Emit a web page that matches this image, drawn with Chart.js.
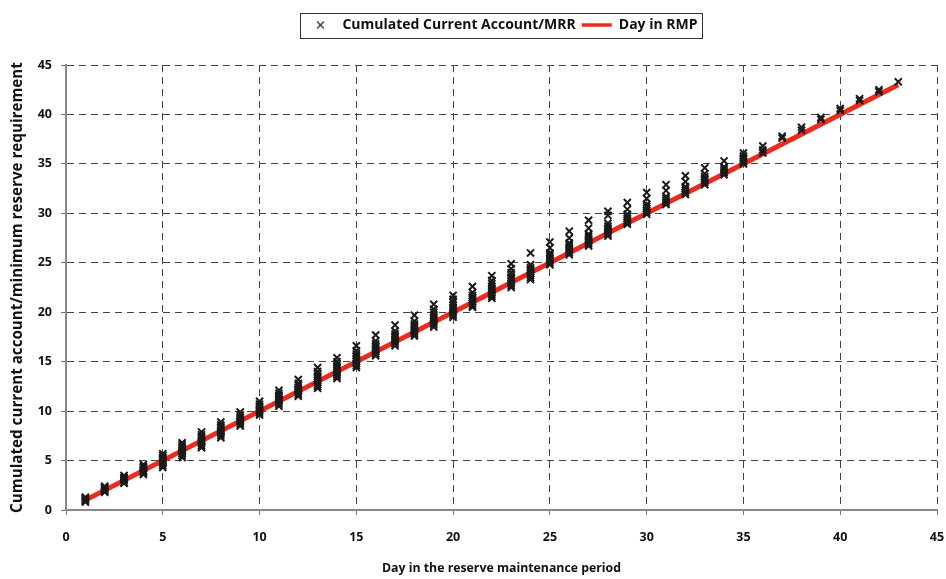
<!DOCTYPE html>
<html>
<head>
<meta charset="utf-8">
<script src="https://cdn.jsdelivr.net/npm/chart.js@4.4.1/dist/chart.umd.min.js"></script>
<style>
  html, body { margin: 0; padding: 0; background: #fff; }
  #wrap { width: 946px; height: 579px; position: relative; }
</style>
</head>
<body>
<div id="wrap"><canvas id="rmp-chart"></canvas></div>
<script>
// 준비금 적립기간 중 누적 경상계정 / 최소 지급준비금

// 각 적립일(1~43일)에 관측된 누적 경상계정/MRR 값
const ratiosByDay = [
    [0.8, 0.9, 1.0, 1.1, 1.2, 1.3],
    [1.8, 1.9, 2.0, 2.1, 2.2, 2.3, 2.4],
    [2.7, 2.8, 3.0, 3.1, 3.2, 3.3, 3.5],
    [3.6, 3.8, 3.9, 4.0, 4.2, 4.3, 4.4, 4.6],
    [4.3, 4.5, 4.7, 4.8, 5.0, 5.2, 5.3, 5.5, 5.7],
    [5.3, 5.5, 5.7, 5.9, 6.0, 6.2, 6.4, 6.6, 6.8],
    [6.3, 6.5, 6.7, 6.9, 7.0, 7.2, 7.4, 7.6, 7.9],
    [7.3, 7.5, 7.7, 7.9, 8.0, 8.2, 8.4, 8.6, 8.9],
    [8.5, 8.7, 8.9, 9.0, 9.2, 9.4, 9.6, 9.9],
    [9.6, 9.8, 10.0, 10.1, 10.3, 10.5, 10.7, 11.0],
    [10.5, 10.7, 10.9, 11.1, 11.2, 11.4, 11.6, 11.8, 12.1],
    [11.5, 11.7, 11.9, 12.1, 12.2, 12.4, 12.6, 12.8, 13.2],
    [12.3, 12.5, 12.7, 12.9, 13.1, 13.3, 13.5, 13.7, 14.0, 14.4],
    [13.3, 13.5, 13.7, 13.9, 14.1, 14.3, 14.5, 14.7, 15.0, 15.4],
    [14.4, 14.6, 14.8, 15.0, 15.2, 15.4, 15.6, 15.8, 16.1, 16.6],
    [15.6, 15.8, 16.0, 16.2, 16.4, 16.6, 16.8, 17.1, 17.7],
    [16.6, 16.8, 17.0, 17.2, 17.4, 17.6, 17.8, 18.1, 18.7],
    [17.6, 17.8, 18.0, 18.2, 18.4, 18.6, 18.8, 19.1, 19.7],
    [18.5, 18.7, 18.9, 19.1, 19.3, 19.5, 19.7, 20.0, 20.3, 20.8],
    [19.5, 19.7, 19.9, 20.1, 20.3, 20.5, 20.7, 21.0, 21.3, 21.7],
    [20.5, 20.7, 20.9, 21.1, 21.3, 21.5, 21.7, 22.0, 22.6],
    [21.4, 21.6, 21.8, 22.0, 22.2, 22.4, 22.6, 22.9, 23.2, 23.7],
    [22.5, 22.7, 22.9, 23.1, 23.3, 23.5, 23.7, 24.0, 24.4, 24.9],
    [23.3, 23.5, 23.7, 23.9, 24.1, 24.3, 24.5, 24.8, 26.0],
    [24.8, 25.0, 25.2, 25.4, 25.6, 25.8, 26.0, 26.5, 27.1],
    [25.8, 26.0, 26.2, 26.4, 26.6, 26.8, 27.0, 27.5, 28.2],
    [26.7, 26.9, 27.1, 27.3, 27.5, 27.7, 27.9, 28.5, 29.3],
    [27.7, 27.9, 28.1, 28.3, 28.5, 28.7, 29.0, 29.8, 30.2],
    [28.9, 29.1, 29.3, 29.5, 29.7, 29.9, 30.4, 31.1],
    [29.9, 30.1, 30.3, 30.5, 30.7, 30.9, 31.5, 32.1],
    [30.9, 31.1, 31.3, 31.5, 31.7, 32.3, 32.9],
    [31.9, 32.1, 32.3, 32.5, 32.7, 33.2, 33.8],
    [32.9, 33.1, 33.3, 33.5, 33.7, 34.0, 34.6],
    [33.9, 34.1, 34.3, 34.5, 34.7, 35.3],
    [35.0, 35.2, 35.4, 35.6, 35.8, 36.1],
    [36.1, 36.4, 36.8],
    [37.6, 37.8],
    [38.4, 38.7],
    [39.5, 39.7],
    [40.4, 40.6],
    [41.4, 41.6],
    [42.3, 42.5],
    [43.3]
];

// 적립일 번호
const days = [1, 2, 3, 4, 5, 6, 7, 8, 9, 10, 11, 12, 13, 14, 15, 16, 17, 18, 19, 20, 21,
    22, 23, 24, 25, 26, 27, 28, 29, 30, 31, 32, 33, 34, 35, 36, 37, 38, 39, 40, 41, 42, 43];

// 기준선 (Day in RMP)
const rmpDays = [1, 43];
const rmpValues = [1, 43];

// 축 범위
const axisMin = 0;
const axisMax = 45;
const axisStep = 5;

const FONT = "'Open Sans', 'DejaVu Sans', sans-serif";

// 산점도 데이터 만들기
const scatterPoints = [];
days.forEach((d, i) => {
    ratiosByDay[i].forEach(v => scatterPoints.push({ x: d, y: v }));
});
const linePoints = rmpDays.map((d, i) => ({ x: d, y: rmpValues[i] }));

// 범례용 작은 x 표시
const legendCross = document.createElement('canvas');
legendCross.width = 9;
legendCross.height = 9;
(function () {
    const c = legendCross.getContext('2d');
    c.strokeStyle = '#222';
    c.lineWidth = 1.1;
    c.beginPath();
    c.moveTo(1, 1); c.lineTo(8, 8);
    c.moveTo(8, 1); c.lineTo(1, 8);
    c.stroke();
})();

// 범례 높이 고정 + 테두리
const legendBox = {
    id: 'legendBox',
    beforeInit(chart) {
        const lg = chart.legend;
        if (!lg) return;
        const origFit = lg.fit;
        lg.fit = function () {
            origFit.call(this);
            this.height = 53;
        };
    },
    afterDraw(chart) {
        const lg = chart.legend;
        if (!lg || !lg.legendHitBoxes.length) return;
        const boxes = lg.legendHitBoxes;
        const left = Math.min(...boxes.map(b => b.left)) - 5;
        const right = Math.max(...boxes.map(b => b.left + b.width)) + 5;
        const ctx = chart.ctx;
        ctx.save();
        ctx.strokeStyle = '#333';
        ctx.lineWidth = 1;
        ctx.strokeRect(Math.round(left) + 0.5, 13.5, Math.round(right - left), 25);
        ctx.restore();
    }
};

function axisOpts(title, size) {
    return {
        type: 'linear',
        min: axisMin,
        max: axisMax,
        ticks: {
            stepSize: axisStep,
            color: '#111',
            font: { family: FONT, size: 12.5, weight: 'bold' }
        },
        grid: {
            color: '#444',
            lineWidth: 1,
            tickLength: 5,
            tickColor: '#777'
        },
        border: { display: true, color: '#888', width: 2, dash: [7, 5] },
        title: {
            display: true,
            text: title,
            color: '#111',
            font: { family: FONT, size: size, weight: 'bold' }
        }
    };
}

const xAxis = axisOpts('Day in the reserve maintenance period', 12.3);
xAxis.ticks.padding = 15;
xAxis.title.padding = { top: 4, bottom: 3 };
xAxis.afterFit = scale => {
    scale.height = 69;
    scale.paddingRight = 9;
};

const yAxis = axisOpts('Cumulated current account/minimum reserve requirement', 15.2);
yAxis.ticks.padding = 9;
yAxis.title.padding = { top: 9, bottom: 0 };
yAxis.afterFit = scale => { scale.width = 66; };

const ctx = document.getElementById('rmp-chart');
new Chart(ctx, {
    type: 'scatter',
    data: {
        datasets: [{
            label: 'Cumulated Current Account/MRR',
            data: scatterPoints,
            pointStyle: 'crossRot',
            pointRadius: 5,
            pointBorderWidth: 2,
            borderColor: '#1a1a1a',
            backgroundColor: '#1a1a1a'
        }, {
            label: 'Day in RMP',
            type: 'line',
            data: linePoints,
            showLine: true,
            borderColor: '#ec2a1e',
            backgroundColor: '#ec2a1e',
            borderWidth: 5,
            pointRadius: 0,
            pointStyle: 'line'
        }]
    },
    options: {
        responsive: true,
        maintainAspectRatio: false,
        animation: false,
        layout: { padding: { left: 0, right: 0, top: 12, bottom: 0 } },
        plugins: {
            legend: {
                display: true,
                position: 'top',
                fullSize: false,
                labels: {
                    usePointStyle: true,
                    pointStyleWidth: 30,
                    boxHeight: 6,
                    color: '#111',
                    padding: 6,
                    font: { family: FONT, size: 14, weight: 'bold' },
                    generateLabels(chart) {
                        const items = Chart.defaults.plugins.legend.labels.generateLabels(chart);
                        items.forEach(it => {
                            if (it.datasetIndex === 0) {
                                it.pointStyle = legendCross;
                            } else {
                                it.lineWidth = 3.5;
                            }
                        });
                        return items;
                    }
                }
            },
            tooltip: { enabled: false }
        },
        scales: { x: xAxis, y: yAxis }
    },
    plugins: [legendBox]
});
</script>
</body>
</html>
